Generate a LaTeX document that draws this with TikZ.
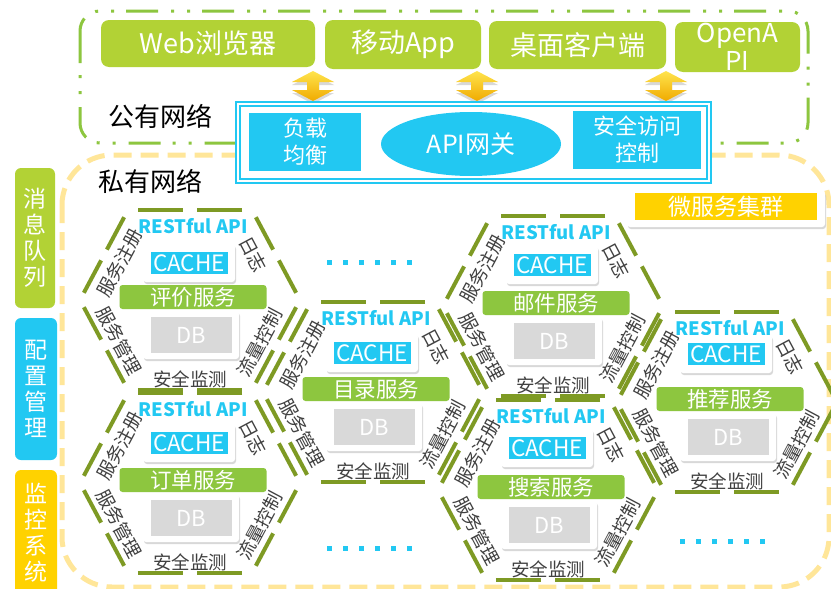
\documentclass[tikz,border=0pt]{standalone}
\usepackage{fontspec}
\setmainfont{Noto Sans CJK SC}
\usetikzlibrary{calc,shadows,shapes.geometric}
\definecolor{cgreen}{HTML}{B2D235}
\definecolor{barg}{HTML}{8DC63F}
\definecolor{cyanc}{HTML}{22C8F2}
\definecolor{yel}{HTML}{FFD200}
\definecolor{olive}{HTML}{7E9A24}
\definecolor{pubg}{HTML}{8DC63F}
\definecolor{privy}{HTML}{FFE699}
\definecolor{txtg}{HTML}{404040}
\definecolor{dbg}{HTML}{D9D9D9}
\definecolor{arrtop}{HTML}{FFE44D}
\definecolor{arrbot}{HTML}{F0AA00}
\newcommand{\fsz}[1]{\fontsize{#1}{#1}\selectfont}
\tikzset{
  hexedge/.style={draw=olive, line width=4pt},
  restlbl/.style={text=cyanc, font=\bfseries\fsz{18.5}, inner sep=0pt},
  shbox/.style={fill=white, rounded corners=3pt, drop shadow={opacity=0.3, shadow xshift=1pt, shadow yshift=-2pt}},
  cachebox/.style={fill=cyanc, text=white, minimum width=77pt, minimum height=22pt, inner sep=0pt, font=\fsz{22.5}},
  svcbar/.style={fill=barg, text=white, rounded corners=3pt, minimum width=147pt, minimum height=24pt, inner sep=0pt, font=\fsz{21.5}},
  dbbox/.style={fill=dbg, text=white, minimum width=81pt, minimum height=36pt, inner sep=0pt, font=\fsz{22}},
  edgetxt/.style={text=txtg, font=\fsz{18.5}, inner sep=0pt},
  client/.style={fill=cgreen, text=white, rounded corners=8pt, inner sep=0pt, font=\fsz{27}, align=center},
  vbar/.style={text=white, align=center, font=\fontsize{23}{26}\selectfont, inner sep=0pt},
  gwbox/.style={fill=cyanc, text=white, inner sep=0pt, align=center, font=\fontsize{22}{27}\selectfont},
  netlbl/.style={text=black, font=\fsz{26}, inner sep=0pt},
  dotsline/.style={draw=cyanc, line width=5pt, dash pattern=on 5pt off 11pt},
  yarrow/.style={top color=arrtop, bottom color=arrbot, drop shadow={opacity=0.3, shadow xshift=0pt, shadow yshift=-3pt}}
}
\newcommand{\hexcell}[5]{%
 \begin{scope}[shift={(#2,#3)}]
  \coordinate (#1-0) at (110,0);
  \coordinate (#1-1) at (62,-90);
  \coordinate (#1-2) at (-62,-90);
  \coordinate (#1-3) at (-110,0);
  \coordinate (#1-4) at (-62,90);
  \coordinate (#1-5) at (62,90);
  \foreach \p/\q in {0/1,1/2,2/3,3/4,4/5,5/0} {
    \draw[hexedge] ($(#1-\p)!0.08!(#1-\q)$) -- ($(#1-\p)!0.44!(#1-\q)$);
    \draw[hexedge] ($(#1-\p)!0.56!(#1-\q)$) -- ($(#1-\p)!0.92!(#1-\q)$);
  }
  \node[restlbl] (#1-api) at (3,-74) {RESTful API};
  \node[shbox, minimum width=92pt, minimum height=38pt] (#1-cb) at (-1,#5) {};
  \node[cachebox] (#1-cache) at (-1,#5) {CACHE};
  \node[svcbar] (#1-svc) at (3,-3) {#4};
  \node[shbox, minimum width=96pt, minimum height=48pt] (#1-dbo) at (1,35) {};
  \node[dbbox] (#1-db) at (1,35) {DB};
  \node[edgetxt] (#1-sec) at (0,79) {安全监测};
  \node[edgetxt, rotate=62] (#1-reg) at (-70,-37) {服务注册};
  \node[edgetxt, rotate=-62] (#1-log) at (63,-46) {日志};
  \node[edgetxt, rotate=-62] (#1-mgt) at (-71,41) {服务管理};
  \node[edgetxt, rotate=62] (#1-flow) at (70,43) {流量控制};
 \end{scope}}
\newcommand{\dblarrow}[3]{%
 \coordinate (#1) at (#2,#3);
 \shade[yarrow] ($(#1)+(0,-15)$) -- ++(21,11) -- ++(-15,0) -- ++(0,8) -- ++(15,0) -- ($(#1)+(0,15)$) -- ++(-21,-11) -- ++(15,0) -- ++(0,-8) -- ++(-15,0) -- cycle;}
\begin{document}
\begin{tikzpicture}[x=1pt,y=-1pt]
\fill[white] (0,0) rectangle (831,589);
\useasboundingbox (0,0) rectangle (831,589);
% private network frame
\draw[draw=privy, line width=5pt, dash pattern=on 18pt off 9pt, rounded corners=50pt] (62,155) rectangle (829,587);
% public network frame
\draw[draw=pubg, line width=3pt, dash pattern=on 32pt off 12pt on 3pt off 13pt on 3pt off 13pt, rounded corners=20pt] (80,11) rectangle (808,143);
% clients
\node[client, minimum width=214pt, minimum height=47pt] (web) at (208,43.5) {Web浏览器};
\node[client, minimum width=156pt, minimum height=49pt] (app) at (403,44.5) {移动App};
\node[client, minimum width=177pt, minimum height=48pt] (desk) at (577.5,45) {桌面客户端};
\node[client, minimum width=125pt, minimum height=50pt, font=\fontsize{26}{28}\selectfont] (oapi) at (737.5,47) {OpenA\\PI};
% arrows
\dblarrow{ar1}{313}{86}
\dblarrow{ar2}{477}{86}
\dblarrow{ar3}{666}{86}
% gateway frame
\node[draw=cyanc, line width=1.3pt, double=white, double distance=2.5pt, fill=white, minimum width=471pt, minimum height=77pt, inner sep=0pt] (gw) at (473.5,142.5) {};
\node[gwbox, minimum width=112pt, minimum height=58pt] (lb) at (305,142) {负载\\均衡};
\node[ellipse, fill=cyanc, text=white, minimum width=180pt, minimum height=64pt, inner sep=0pt, font=\fsz{25}] (apigw) at (471,144) {API网关};
\node[gwbox, minimum width=128pt, minimum height=58pt] (sac) at (637,140) {安全访问\\控制};
% labels
\node[netlbl] (pub) at (160,116) {公有网络};
\node[netlbl] (priv) at (150,181) {私有网络};
% side bars
\fill[cgreen, rounded corners=6pt] (15,168) rectangle (55,308);
\node[vbar] (mq) at (35,238) {消\\息\\队\\列};
\fill[cyanc, rounded corners=6pt] (15,318) rectangle (57,460);
\node[vbar] (cfg) at (36,389) {配\\置\\管\\理};
\fill[yel, rounded corners=6pt] (15,470) rectangle (57,600);
\node[vbar] (mon) at (36,533) {监\\控\\系\\统};
% cluster label
\node[shbox, minimum width=198pt, minimum height=36pt] (clo) at (726,209) {};
\node[fill=yel, text=white, minimum width=182pt, minimum height=27pt, inner sep=0pt, font=\fsz{23}] (cl) at (726,206.5) {微服务集群};
% hexagons
\hexcell{h1}{190}{300}{评价服务}{-37}
\hexcell{h2}{190}{483}{订单服务}{-40}
\hexcell{h3}{373}{392}{目录服务}{-39}
\hexcell{h4}{553}{306}{邮件服务}{-41}
\hexcell{h5}{548}{490}{搜索服务}{-42}
\hexcell{h6}{727}{402}{推荐服务}{-48}
% ellipsis dots
\coordinate (d1a) at (327,262); \coordinate (d1b) at (412,262);
\coordinate (d2a) at (327,548); \coordinate (d2b) at (412,548);
\coordinate (d3a) at (680,541); \coordinate (d3b) at (765,541);
\draw[dotsline] (d1a) -- (d1b);
\draw[dotsline] (d2a) -- (d2b);
\draw[dotsline] (d3a) -- (d3b);
\end{tikzpicture}
\end{document}
